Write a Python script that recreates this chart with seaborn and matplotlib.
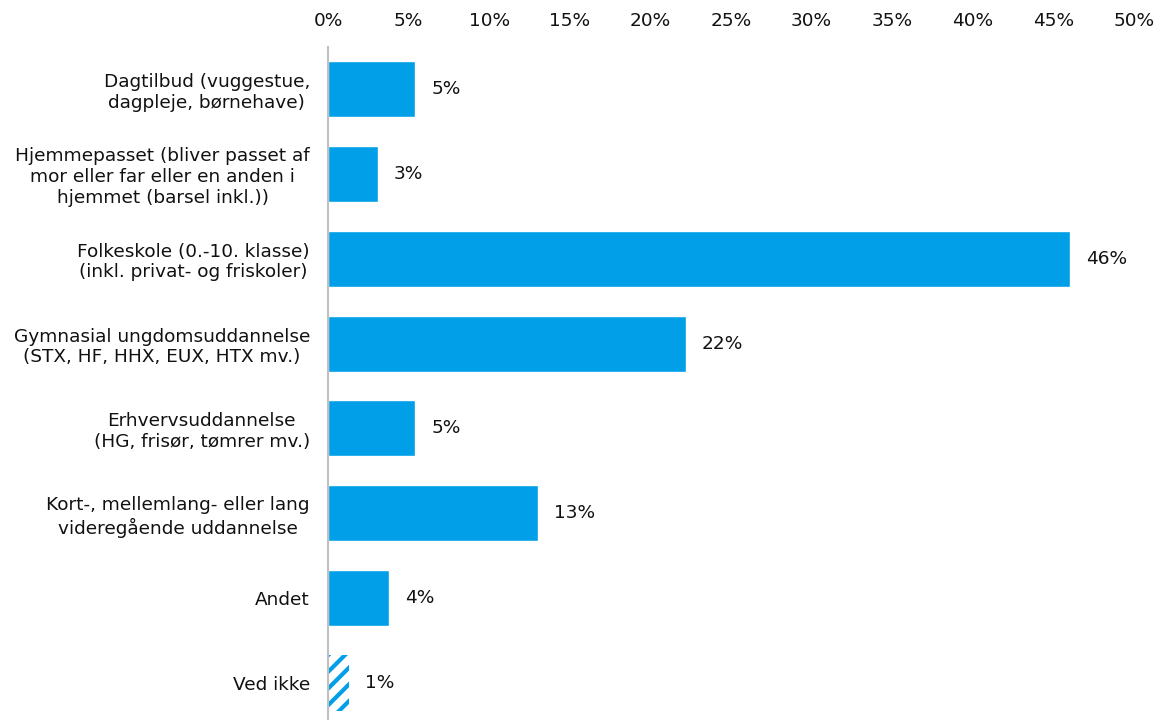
import matplotlib
matplotlib.use("Agg")
import matplotlib.pyplot as plt
import seaborn as sns
import pandas as pd

categories = [
    "Dagtilbud (vuggestue,\ndagpleje, børnehave)",
    "Hjemmepasset (bliver passet af\nmor eller far eller en anden i\nhjemmet (barsel inkl.))",
    "Folkeskole (0.-10. klasse)\n(inkl. privat- og friskoler)",
    "Gymnasial ungdomsuddannelse\n(STX, HF, HHX, EUX, HTX mv.)",
    "Erhvervsuddannelse\n(HG, frisør, tømrer mv.)",
    "Kort-, mellemlang- eller lang\nvideregående uddannelse",
    "Andet",
    "Ved ikke",
]
shares = [5.4, 3.1, 46.0, 22.2, 5.4, 13.0, 3.8, 1.3]
tick_values = [0, 5, 10, 15, 20, 25, 30, 35, 40, 45, 50]

BLUE = "#009FE8"
TEXT = "#111111"
FS = 13.3

sns.set_theme(style="white")
plt.rcParams["font.family"] = ["DejaVu Sans"]
plt.rcParams["hatch.linewidth"] = 3.0

df = pd.DataFrame({"kategori": categories, "andel": shares})

fig = plt.figure(figsize=(11.63, 7.2), dpi=100)
ax = fig.add_axes([328 / 1163, -5.5 / 720, (1134 - 328) / 1163, (725.5 - 46.5) / 720])

sns.barplot(data=df, x="andel", y="kategori", orient="h", color=BLUE,
            saturation=1, width=0.66, ax=ax)

# "Ved ikke" drawn as a hatched bar
last = ax.patches[-1]
last.set_facecolor("white")
last.set_edgecolor(BLUE)
last.set_hatch("//")
last.set_linewidth(0)

ax.set_xlim(0, 50)
ax.set_ylim(len(categories) - 0.5, -0.5)
ax.set_xticks(tick_values)
ax.set_xticklabels([f"{t}%" for t in tick_values], fontsize=FS, color=TEXT)
ax.xaxis.tick_top()
ax.tick_params(axis="x", length=0, pad=12)
ax.tick_params(axis="y", length=0, pad=13)
for lbl in ax.get_yticklabels():
    lbl.set_fontsize(FS)
    lbl.set_multialignment("center")
    lbl.set_linespacing(1.2)
    lbl.set_color(TEXT)
ax.set_xlabel("")
ax.set_ylabel("")

for s in ["top", "right", "bottom"]:
    ax.spines[s].set_visible(False)
ax.spines["left"].set_color("#BFBFBF")
ax.spines["left"].set_linewidth(1.5)

for i, v in enumerate(shares):
    ax.text(v + 1.0, i, f"{v:.0f}%", va="center", ha="left",
            fontsize=FS, color=TEXT)

fig.savefig("out.png", dpi=100)
